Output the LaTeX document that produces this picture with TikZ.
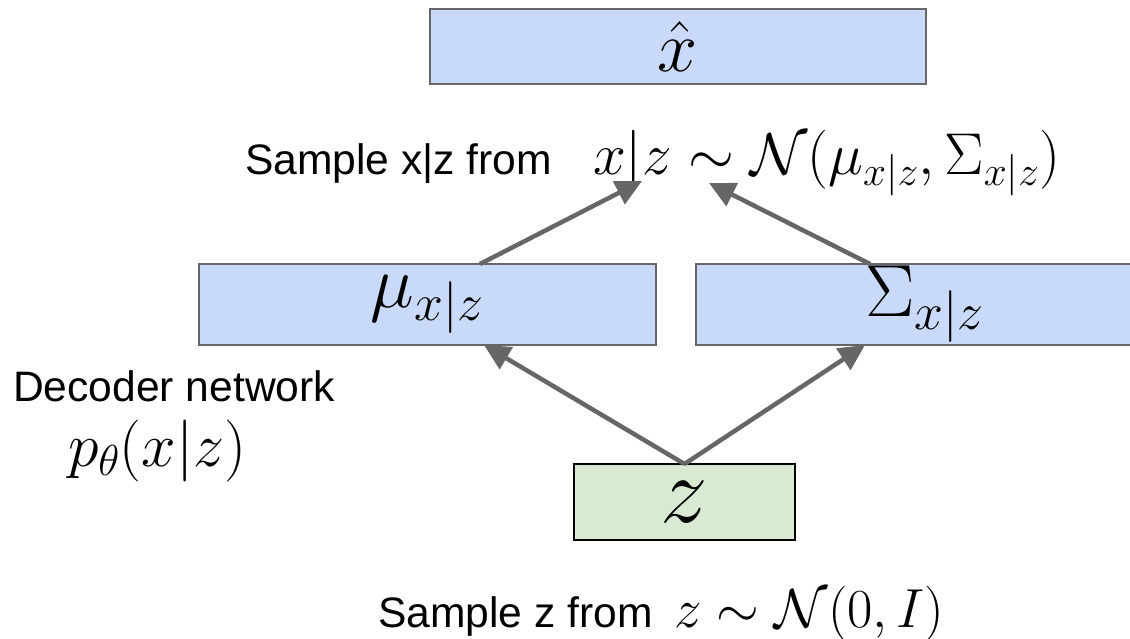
\documentclass[tikz,border=0pt]{standalone}
\usepackage{fix-cm}
\usepackage[no-math]{fontspec}
\newfontfamily\arial{Liberation Sans}
\usetikzlibrary{arrows.meta}
\definecolor{boxblue}{HTML}{C9DAF8}
\definecolor{boxgreen}{HTML}{D9EAD3}
\definecolor{linegray}{HTML}{666666}
\begin{document}
\begin{tikzpicture}[x=1pt,y=-1pt,
  bluebox/.style={draw=linegray, line width=2.5pt, fill=boxblue, inner sep=0pt, outer sep=0pt},
  greenbox/.style={draw=black, line width=2.5pt, fill=boxgreen, inner sep=0pt, outer sep=0pt},
  conn/.style={draw=linegray, line width=4.5pt, -{Triangle[length=26pt,width=25pt]}},
  lbl/.style={inner sep=0pt, outer sep=0pt, anchor=base west, font=\arial\fontsize{42.6}{50}\selectfont},
  mth/.style={inner sep=0pt, outer sep=0pt, anchor=base west}]
\useasboundingbox (0,0) rectangle (1130,639);
% boxes
\node[bluebox, minimum width=496pt, minimum height=75pt] (xhat) at (678,46.5) {\fontsize{72}{72}\selectfont$\hat{x}$};
\node[bluebox, minimum width=457pt, minimum height=81pt] (mu) at (427.5,304.5) {\fontsize{74}{74}\selectfont$\mu_{x|z}$};
\node[bluebox, minimum width=457pt, minimum height=81pt] (sigma) at (924.5,304.5) {\fontsize{74}{74}\selectfont$\Sigma_{x|z}$};
\node[greenbox, minimum width=221pt, minimum height=76pt] (z) at (684.5,502) {\fontsize{95}{95}\selectfont$z$};
% texts
\node[lbl] (sx) at (245,175) {Sample x|z from};
\node[mth, font=\fontsize{59}{60}\selectfont] (fx) at (593,175) {$x|z\sim\mathcal{N}(\mu_{x|z},\Sigma_{x|z})$};
\node[lbl] (dec) at (13,401) {Decoder network};
\node[mth, font=\fontsize{62}{62}\selectfont] (pth) at (68,466) {$p_\theta(x|z)$};
\node[lbl] (sz) at (378,627) {Sample z from};
\node[mth, font=\fontsize{55}{55}\selectfont] (fz) at (674,627) {$z\sim\mathcal{N}(0,I)$};
% connector ends
\coordinate (mutip) at (484,345);
\coordinate (sigtip) at (865,345);
\coordinate (mutop) at (480,264);
\coordinate (sigtop) at (870,264);
\coordinate (t1) at (642,181);
\coordinate (t2) at (709,183);
% connectors
\draw[conn] (z.north) -- (mutip);
\draw[conn] (z.north) -- (sigtip);
\draw[conn] (mutop) -- (t1);
\draw[conn] (sigtop) -- (t2);
\end{tikzpicture}
\end{document}
